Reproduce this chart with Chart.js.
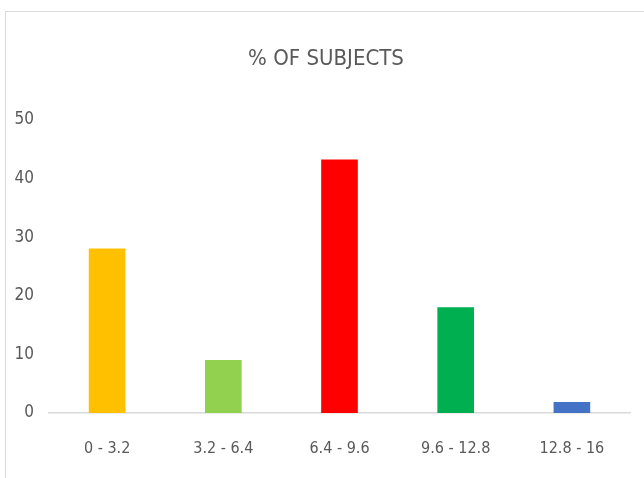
<!DOCTYPE html>
<html>
<head>
<meta charset="utf-8">
<script src="https://cdn.jsdelivr.net/npm/chart.js@4"></script>
<style>
  html, body { margin: 0; padding: 0; background: #fff; overflow: hidden; }
  #wrap { position: relative; width: 644px; height: 478px; }
  #frame { position: absolute; left: 5px; top: 11px; width: 700px; height: 500px; border: 1.5px solid #d9d9d9; }
  canvas { position: absolute; left: 0; top: 0; }
</style>
</head>
<body>
<div id="wrap">
  <div id="frame"></div>
  <canvas id="chart" width="644" height="478"></canvas>
</div>
<script>
// Data
const categories = ['0 - 3.2', '3.2 - 6.4', '6.4 - 9.6', '9.6 - 12.8', '12.8 - 16'];
const subjects = [28, 9, 43.2, 18, 1.8];
const barColors = ['#FFC000', '#92D050', '#FF0000', '#00B050', '#4472C4'];
const yTicks = [0, 10, 20, 30, 40, 50];
const titleText = '% OF SUBJECTS';

const FONT = "'DejaVu Sans Condensed', 'Liberation Sans Narrow', sans-serif";
const GREY = '#595959';

// Title centred on the outer frame rather than the canvas
const frameTitle = {
  id: 'frameTitle',
  afterDraw(chart) {
    const c = chart.ctx;
    c.save();
    c.font = `22px ${FONT}`;
    c.fillStyle = GREY;
    c.textAlign = 'center';
    c.textBaseline = 'middle';
    c.fillText(titleText, 326, 59);
    c.restore();
  }
};

const ctx = document.getElementById('chart').getContext('2d');
new Chart(ctx, {
  type: 'bar',
  data: {
    labels: categories,
    datasets: [{
      data: subjects,
      backgroundColor: barColors,
      borderWidth: 0,
      barThickness: 36
    }]
  },
  options: {
    responsive: false,
    animation: false,
    layout: { padding: { left: 0, right: 14, top: 120, bottom: 0 } },
    plugins: {
      legend: { display: false },
      tooltip: { enabled: false },
      title: { display: false }
    },
    scales: {
      x: {
        grid: { display: false, drawTicks: false },
        border: { color: '#d9d9d9', width: 1.5 },
        ticks: { color: GREY, font: { family: FONT, size: 16 }, padding: 26, maxRotation: 0 },
        afterFit: s => { s.height = 65; }
      },
      y: {
        min: 0,
        max: 50,
        grid: { display: false, drawTicks: false },
        border: { display: false },
        afterBuildTicks: s => { s.ticks = yTicks.map(v => ({ value: v })); },
        ticks: { color: GREY, font: { family: FONT, size: 17 }, padding: 15 },
        afterFit: s => { s.width = 49; }
      }
    }
  },
  plugins: [frameTitle]
});
</script>
</body>
</html>
